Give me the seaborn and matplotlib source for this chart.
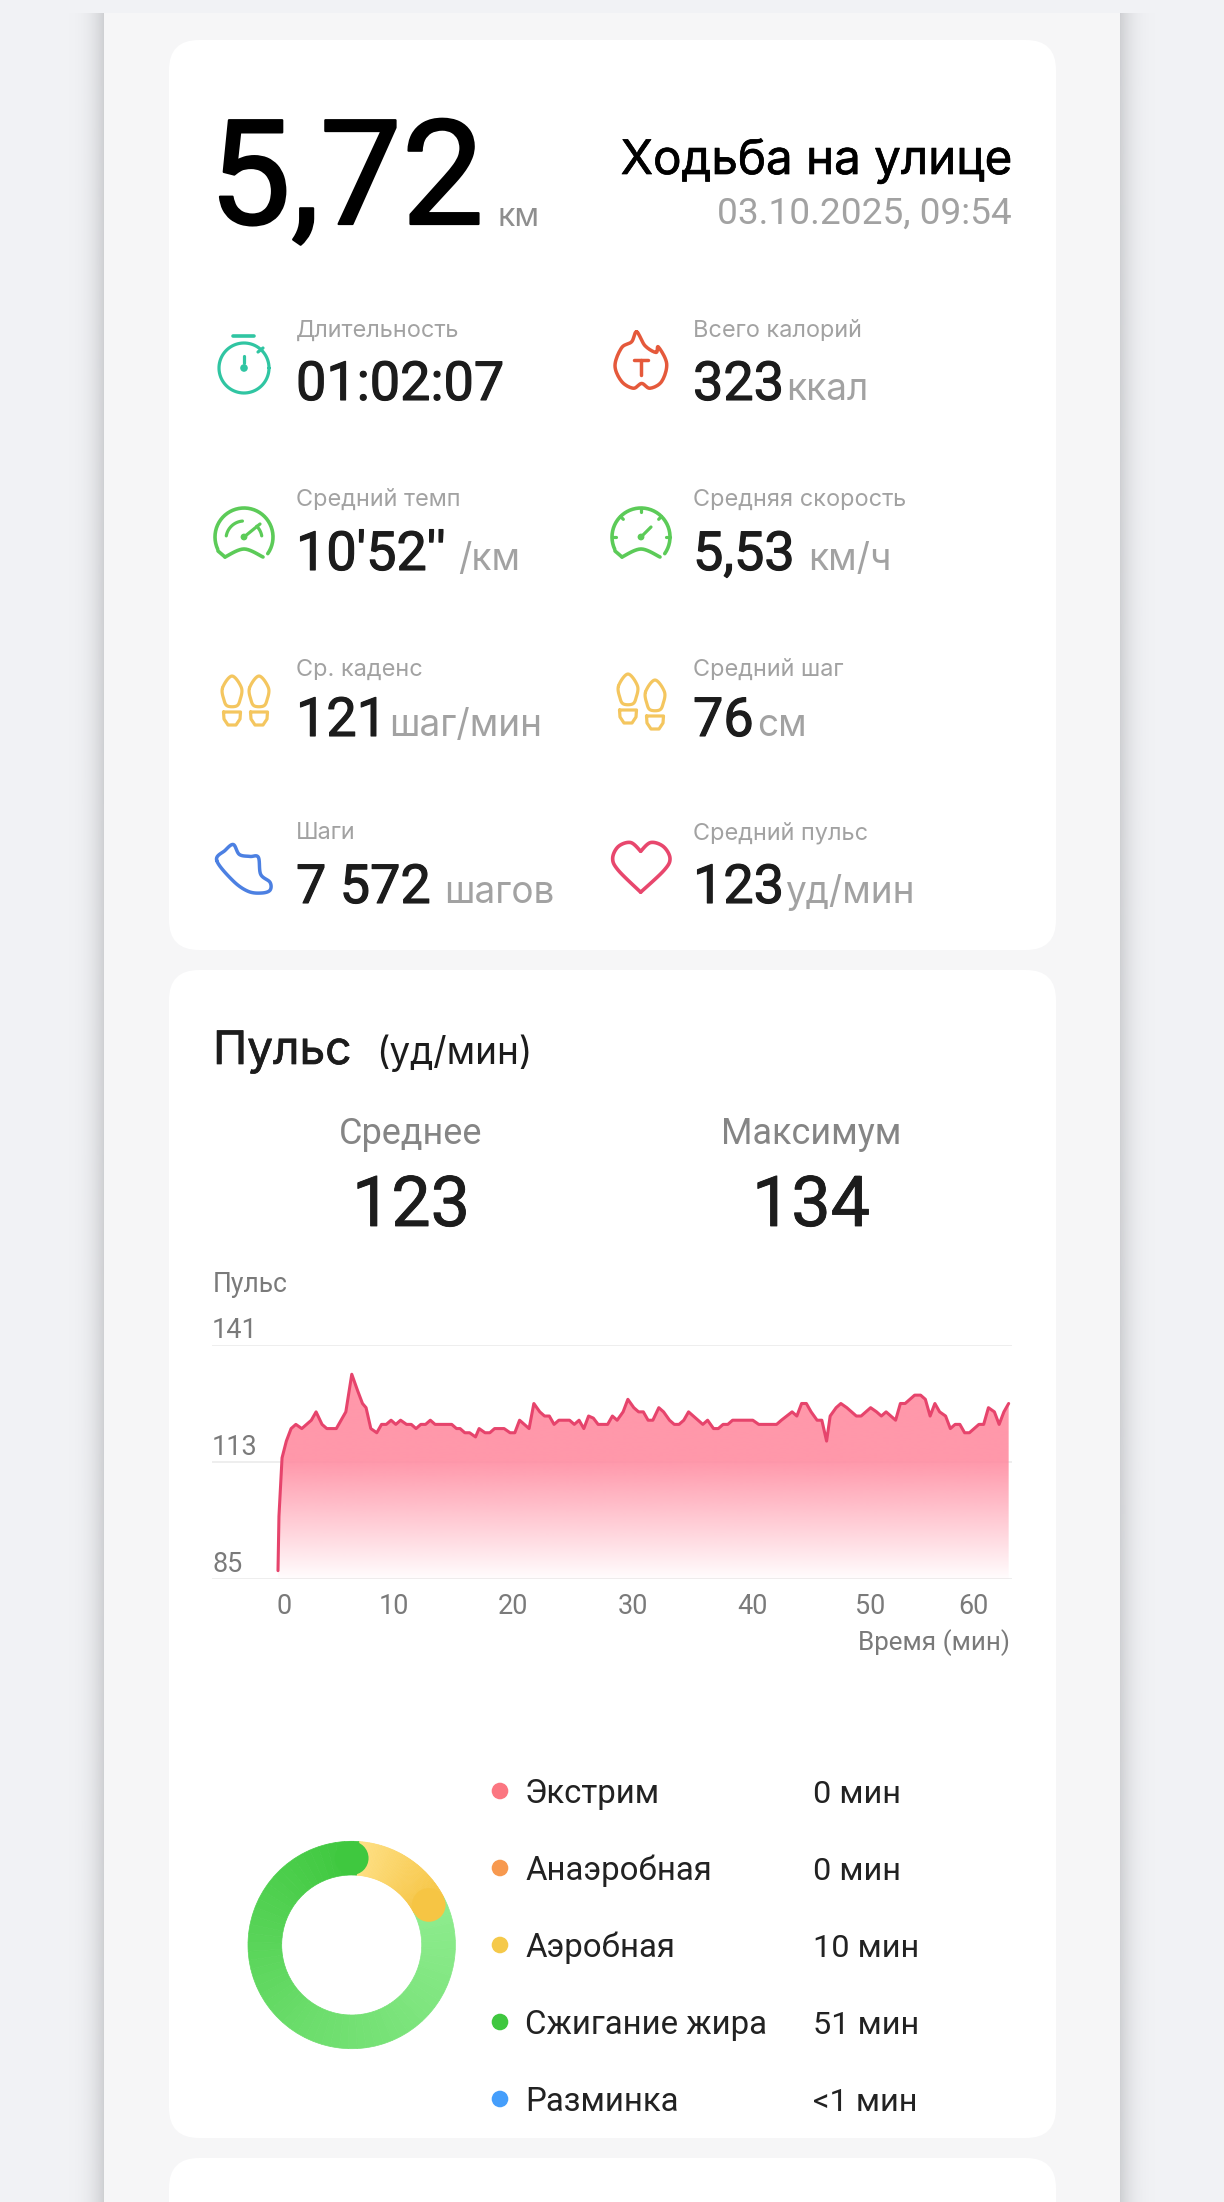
#!/usr/bin/env python3

# workout summary screen: stats card, heart rate line chart, zone donut

import numpy as np
import pandas as pd
import matplotlib
matplotlib.use('Agg')
import matplotlib.pyplot as plt
import matplotlib.patheffects as pe
import seaborn as sns
from matplotlib.patches import FancyBboxPatch, Circle, Rectangle
from matplotlib.transforms import ScaledTranslation

W, H = 1224, 2202

# heart rate
minutes = [0, 0.08, 0.34, 0.7, 1.1, 1.5, 2.0, 2.4, 2.8, 3.2, 3.7, 4.1, 4.9, 5.7, 6.2, 6.7, 7.1, 7.4,
           7.8, 8.3, 8.7, 9.1, 9.5, 9.9, 10.3, 10.8, 11.2, 11.6, 12.0, 12.4, 12.8, 13.2, 14.6, 15.0,
           15.3, 15.7, 16.1, 16.6, 16.9, 17.4, 17.8, 18.2, 19.0, 19.5, 19.9, 20.3, 20.7, 21.1, 21.5,
           22.0, 22.4, 22.8, 23.2, 23.6, 24.5, 24.9, 25.3, 25.7, 26.1, 26.5, 26.9, 27.7, 28.1, 28.5,
           29.0, 29.4, 29.9, 30.3, 30.7, 31.1, 31.5, 32.0, 32.4, 32.9, 33.3, 33.7, 34.1, 34.5, 34.9,
           35.3, 35.7, 36.1, 36.6, 37.0, 37.4, 37.8, 38.2, 39.9, 40.4, 41.9, 42.3, 43.2, 43.6, 44.0,
           44.4, 44.8, 45.3, 45.7, 46.1, 46.4, 46.9, 47.3, 47.8, 48.2, 48.6, 49.0, 49.8, 50.3, 50.7,
           51.1, 51.5, 51.9, 52.3, 52.7, 53.5, 54.0, 54.4, 54.8, 55.2, 55.6, 56.1, 56.5, 56.9, 57.3,
           57.7, 58.1, 58.9, 59.3, 59.7, 60.2, 60.6, 61.0, 61.4]
pulse = [87, 100, 114, 118, 121, 122, 121, 122, 123, 125, 122, 121, 121, 125, 134, 130, 127, 126,
         121, 120, 122, 122, 123, 122, 123, 122, 122, 121, 122, 122, 123, 122, 122, 121,
         121, 120, 120, 119, 121, 120, 120, 121, 121, 120, 120, 123, 122, 121, 127,
         125, 124, 124, 122, 123, 123, 122, 123, 121, 124, 123.5, 122, 122, 124, 123,
         125, 128, 126, 125, 125, 123, 123, 126, 125, 123, 122, 122, 123, 125, 124,
         123, 122, 123, 121, 121, 122, 122, 123, 123, 122, 122, 123, 125, 124, 127,
         127, 125, 123, 123, 118, 124, 126, 127, 126, 125, 124, 124, 126, 125, 124,
         125, 124, 123, 127, 127, 129, 129, 128, 124, 127, 125, 124, 121, 122, 122,
         120, 120, 122, 122, 126, 125, 122, 125, 127]

y_ticks = [85, 113, 141]
x_labels = ['0', '10', '20', '30', '40', '50', '60']
# where the app puts the labels, first and last are pushed inwards
x_label_pos = [0.5, 9.75, 19.75, 29.83, 39.83, 49.75, 58.4]

zone_names = ['Экстрим', 'Анаэробная', 'Аэробная', 'Сжигание жира', 'Разминка']
zone_labels = ['0 мин', '0 мин', '10 мин', '51 мин', '<1 мин']
zone_minutes = [0, 0, 10, 51, 0.5]
zone_colors = ['#FB7681', '#F7994F', '#F5C94A', '#3FC73F', '#459EFB']

stat_labels = ['Длительность', 'Всего калорий', 'Средний темп', 'Средняя скорость',
               'Ср. каденс', 'Средний шаг', 'Шаги', 'Средний пульс']
stat_values = ['01:02:07', '323', "10'52''", '5,53', '121', '76', '7 572', '123']
stat_units = ['', 'ккал', '/км', 'км/ч', 'шаг/мин', 'см', 'шагов', 'уд/мин']

sns.set_theme(style='white')
plt.rcParams['font.family'] = ['Roboto', 'DejaVu Sans']

DARK = '#1C1C1C'
GREY = '#A2A2A2'
AXIS_GREY = '#7A7A7A'


def px(size):
    """pixel height to points at dpi 100"""
    return size * 0.72


def to_xy(pts, x0, y0):
    """crop coordinates of the icons to page pixels"""
    return [(x0 + a / 3, y0 + b / 2.516) for a, b in pts]


def heavy(color, lw):
    """thicken a regular weight a little"""
    return [pe.withStroke(linewidth=lw, foreground=color)]


def smooth(pts, closed=True, n=10):
    """catmull-rom through the points, only used for the icons"""
    p = np.array(pts, dtype=float)
    if closed:
        p = np.vstack([p[-1], p, p[0], p[1]])
    else:
        p = np.vstack([p[0], p, p[-1]])
    out = []
    for i in range(1, len(p) - 2):
        for t in np.linspace(0, 1, n, endpoint=False):
            out.append(0.5 * (2 * p[i] + (p[i + 1] - p[i - 1]) * t
                              + (2 * p[i - 1] - 5 * p[i] + 4 * p[i + 1] - p[i + 2]) * t ** 2
                              + (3 * p[i] - p[i - 1] - 3 * p[i + 1] + p[i + 2]) * t ** 3))
    if closed:
        out.append(out[0])
    else:
        out.append(p[-1])
    return np.array(out)


def stroke(bg, pts, color, lw=2.3):
    pts = np.asarray(pts)
    bg.plot(pts[:, 0], pts[:, 1], color=color, lw=lw, solid_capstyle='round', solid_joinstyle='round', zorder=4)


def arc(cx, cy, r, a0, a1, n=40):
    t = np.radians(np.linspace(a0, a1, n))
    return np.column_stack([cx + r * np.cos(t), cy - r * np.sin(t)])


def card(bg, x0, y0, x1, y1, r=30):
    bg.add_patch(FancyBboxPatch((x0 + r, y0 + r), x1 - x0 - 2 * r, y1 - y0 - 2 * r,
                                boxstyle=f'round,pad={r},rounding_size={r}',
                                fc='white', ec='none', zorder=2))


def shoes(bg, x1, y1, x2, y2, color):
    for cx, top in [(x1, y1), (x2, y2)]:
        sole = smooth([(cx - 9.5, top + 12), (cx, top), (cx + 9.5, top + 12), (cx + 8, top + 24),
                       (cx + 4.5, top + 30), (cx - 4.5, top + 30), (cx - 8, top + 24)])
        stroke(bg, sole, color)
        heel = [(cx - 8.5, top + 36), (cx + 8.5, top + 36), (cx + 8, top + 43), (cx + 4, top + 49),
                (cx - 4, top + 49), (cx - 8, top + 43), (cx - 8.5, top + 36)]
        stroke(bg, heel, color)


def draw_icons(bg):
    # stopwatch
    c = '#30C5A2'
    stroke(bg, arc(244, 368, 25, 0, 360, 80), c)
    stroke(bg, [(233, 336), (254, 336)], c, 2.6)
    stroke(bg, [(258, 352), (263, 348)], c)
    stroke(bg, [(244, 356), (244, 363)], c)
    bg.add_patch(Circle((244, 368), 3.8, fc=c, ec='none', zorder=4))

    # pace gauge
    c = '#5CCB58'
    stroke(bg, arc(244, 537, 29, 205, -35), c, 2.6)
    stroke(bg, smooth([(263, 557), (244, 549), (225, 557)], closed=False), c, 2.6)
    stroke(bg, [(218, 551), (225, 557)], c, 2.6)
    stroke(bg, arc(244, 539, 18, 170, 95), c)
    stroke(bg, arc(244, 539, 18, 45, 10), c)
    stroke(bg, [(244, 537), (260, 524)], c)
    bg.add_patch(Circle((244, 537), 3.4, fc=c, ec='none', zorder=4))

    # speed gauge
    stroke(bg, arc(641, 537, 29, 205, -35), c, 2.6)
    stroke(bg, smooth([(660, 557), (641, 549), (622, 557)], closed=False), c, 2.6)
    stroke(bg, [(615, 551), (622, 557)], c, 2.6)
    for a in [180, 135, 90, 45, 0]:
        t = np.radians(a)
        stroke(bg, [(641 + 29 * np.cos(t), 537 - 29 * np.sin(t)), (641 + 25 * np.cos(t), 537 - 25 * np.sin(t))], c)
    stroke(bg, [(641, 537), (651, 527)], c)
    bg.add_patch(Circle((641, 537), 3.4, fc=c, ec='none', zorder=4))

    shoes(bg, 232, 676, 259, 676, '#F4C65F')
    shoes(bg, 628, 674, 655, 680, '#F4C65F')

    # sneaker
    sneaker = [(80, 1410), (105, 1385), (130, 1370), (148, 1395), (180, 1400), (205, 1402), (212, 1445),
               (240, 1465), (240, 1485), (215, 1492), (175, 1488), (130, 1462)]
    stroke(bg, smooth(to_xy(sneaker, 190, 300)), '#4C80E2', 2.5)

    # flame with T
    c = '#E5593B'
    flame = [(140, 80), (165, 115), (198, 132), (205, 118), (230, 160), (215, 205), (180, 222),
             (155, 210), (130, 222), (95, 205), (75, 165), (95, 120), (125, 105)]
    stroke(bg, smooth(to_xy(flame, 590, 300)), c, 2.5)
    stroke(bg, to_xy([(132, 150), (174, 150)], 590, 300), c, 2.5)
    stroke(bg, to_xy([(153, 150), (153, 188)], 590, 300), c, 2.5)

    # heart
    left = [(152, 1490), (85, 1435), (68, 1405), (85, 1375), (122, 1365), (152, 1387)]
    right = [(152, 1387), (182, 1365), (220, 1375), (240, 1405), (222, 1435), (152, 1490)]
    stroke(bg, smooth(to_xy(left, 590, 300), closed=False), '#E8476D', 2.6)
    stroke(bg, smooth(to_xy(right, 590, 300), closed=False), '#E8476D', 2.6)


def draw_stats(bg):
    bg.text(209, 224, '5,72', fontsize=px(146), color='black', va='baseline', zorder=5,
            path_effects=heavy('black', 1.6))
    bg.text(497, 226, 'км', fontsize=px(32), color='#8E8E8E', va='baseline', zorder=5, family='Inter')
    bg.text(1012, 174, 'Ходьба на улице', fontsize=px(47.5), color='black', ha='right', va='baseline', zorder=5,
            family='Inter', path_effects=heavy('black', 0.5))
    bg.text(1012, 224, '03.10.2025, 09:54', fontsize=px(37), color=GREY, ha='right', va='baseline', zorder=5)

    col_x = [296, 693]
    label_y = [337, 506, 676, 839]
    value_y = [400, 570, 736, 903]
    unit_x = [None, 786, 458, 808, 389, 757, 444, 785]
    for i, (lab, val, unit) in enumerate(zip(stat_labels, stat_values, stat_units)):
        row = i // 2
        x = col_x[i % 2]
        bg.text(x, label_y[row], lab, fontsize=px(23.5), color=GREY, va='baseline', zorder=5, family='Inter')
        bg.text(x, value_y[row], val, fontsize=px(54), color=DARK, va='baseline', zorder=5,
                path_effects=heavy(DARK, 0.8))
        if unit:
            bg.text(unit_x[i], value_y[row], unit, fontsize=px(37), color=GREY, va='baseline', zorder=5, family='Inter')


def draw_pulse_header(bg):
    bg.text(213, 1064, 'Пульс', fontsize=px(46), color=DARK, va='baseline', zorder=5, family='Inter',
            path_effects=heavy(DARK, 0.5))
    bg.text(376, 1064, '(уд/мин)', fontsize=px(37), color=DARK, va='baseline', zorder=5, family='Inter')
    for x, name, val in [(411, 'Среднее', '123'), (811, 'Максимум', '134')]:
        bg.text(x, 1144, name, fontsize=px(36), color='#858585', ha='center', va='baseline', zorder=5)
        bg.text(x, 1226, val, fontsize=px(70), color=DARK, ha='center', va='baseline', zorder=5,
                path_effects=heavy(DARK, 0.6))
    bg.text(213, 1292, 'Пульс', fontsize=px(26.5), color=AXIS_GREY, va='baseline', zorder=5)
    bg.text(1010, 1650, 'Время (мин)', fontsize=px(26), color=AXIS_GREY, ha='right', va='baseline', zorder=5)


def draw_chart(fig):
    # 212..1012 wide, 1345..1579 tall on the page
    ax = fig.add_axes([212 / W, 1 - 1579 / H, 800 / W, 234 / H], facecolor='none', zorder=6)
    df = pd.DataFrame({'minute': minutes, 'pulse': pulse})
    x0_px, per_min = 278, 11.9
    ax.set_xlim((212 - x0_px) / per_min, (1012 - x0_px) / per_min)
    ax.set_ylim(85, 141)

    poly = ax.fill_between(df['minute'], df['pulse'], 85, color='none', lw=0)
    # flat pink down to 113 then fading out
    levels = np.linspace(141, 85, 256)
    rgba = np.zeros((256, 1, 4))
    rgba[..., :3] = matplotlib.colors.to_rgb('#FF8FA3')
    rgba[:, 0, 3] = np.interp(levels, [85, 113, 141], [0.02, 0.92, 0.92])
    img = ax.imshow(rgba, extent=[minutes[0], minutes[-1], 85, 141], aspect='auto', zorder=2, interpolation='bilinear')
    img.set_clip_path(poly.get_paths()[0], ax.transData)
    ax.set_xlim((212 - x0_px) / per_min, (1012 - x0_px) / per_min)
    ax.set_ylim(85, 141)

    sns.lineplot(data=df, x='minute', y='pulse', ax=ax, color='#E6446C', lw=2.2,
                 estimator=None, sort=False, zorder=3)

    sns.despine(ax=ax, left=True, bottom=True, top=True, right=True)
    ax.set_xlabel('')
    ax.set_ylabel('')
    ax.set_yticks(y_ticks, [str(v) for v in y_ticks])
    ax.set_xticks(x_label_pos, x_labels)
    ax.grid(axis='y', color='#E9E9E9', lw=1.1, zorder=1)
    ax.grid(axis='x', visible=False)
    ax.set_axisbelow(True)
    ax.tick_params(axis='y', length=0, pad=0, labelsize=px(27), labelcolor=AXIS_GREY)
    ax.tick_params(axis='x', length=0, pad=10, labelsize=px(27), labelcolor=AXIS_GREY)
    # y labels sit on top of their gridlines, inside the plot
    up = ScaledTranslation(0, 7 / 100, fig.dpi_scale_trans)
    for lab in ax.get_yticklabels():
        lab.set_ha('left')
        lab.set_va('baseline')
        lab.set_transform(lab.get_transform() + up)
    return ax


def draw_donut(fig, bg):
    cx, cy, r = 351.7, 1945, 103.7
    ax = fig.add_axes([(cx - r) / W, 1 - (cy + r) / H, 2 * r / W, 2 * r / H], facecolor='none', zorder=6)
    n = 60
    total = sum(zone_minutes)
    aerobic, fat, warmup = zone_minutes[2], zone_minutes[3], zone_minutes[4]
    # seaborn blends for the colour run along the ring
    yellows = sns.blend_palette(['#FEE084', '#F6C544'], n)
    greens = sns.blend_palette(['#8EEC8E', '#6BDD6B', '#3FC83F'], n)
    sizes = [aerobic / n] * n + [fat / n] * n + [warmup]
    colors = list(yellows) + list(greens) + [greens[-1]]
    offset = 4
    width = 33.7 / r
    wedges, _ = ax.pie(sizes, colors=colors, startangle=90 - offset, counterclock=False, radius=1,
                       wedgeprops={'width': width, 'linewidth': 0.5})
    for w in wedges:
        w.set_edgecolor(w.get_facecolor())
    ax.set_xlim(-1, 1)
    ax.set_ylim(-1, 1)
    mid = 1 - width / 2
    t_end = np.radians(90 - offset - 360 * aerobic / total)
    ax.add_patch(Circle((mid * np.cos(t_end), mid * np.sin(t_end)), width / 2, fc=yellows[-1], ec='none', zorder=5))
    ax.add_patch(Circle((0, mid), width / 2, fc=greens[-1], ec='none', zorder=5))
    ax.axis('off')

    rows = [1793, 1870, 1947, 2024, 2101]
    for y, name, val, col in zip(rows, zone_names, zone_labels, zone_colors):
        bg.add_patch(Circle((500, y - 2), 8.3, fc=col, ec='none', zorder=5))
        bg.text(525, y + 10, name, fontsize=px(33), color='#222222', va='baseline', zorder=5)
        bg.text(813, y + 10, val, fontsize=px(32.5), color='#222222', va='baseline', zorder=5)


def main():
    fig = plt.figure(figsize=(W / 100, H / 100), dpi=100, facecolor='#F1F2F5')
    bg = fig.add_axes([0, 0, 1, 1], facecolor='none')
    bg.axis('off')

    # column shadow on both sides
    shade = np.linspace(0, 1, 64) ** 3
    for x0, x1, ramp in [(62, 104, shade), (1120, 1162, shade[::-1])]:
        g = np.zeros((1, 64, 4))
        g[..., :3] = matplotlib.colors.to_rgb('#C9CACD')
        g[..., 3] = ramp * 0.85
        bg.imshow(g, extent=[x0, x1, H, 13], aspect='auto', zorder=0, interpolation='bilinear')
    bg.add_patch(Rectangle((104, 13), 1016, H - 13, fc='#F6F6F7', ec='none', zorder=1))
    card(bg, 169, 40, 1056, 950)
    card(bg, 169, 970, 1056, 2138)
    card(bg, 169, 2158, 1056, 2300)
    bg.set_xlim(0, W)
    bg.set_ylim(H, 0)

    draw_stats(bg)
    draw_icons(bg)
    draw_pulse_header(bg)
    draw_chart(fig)
    draw_donut(fig, bg)

    bg.set_xlim(0, W)
    bg.set_ylim(H, 0)
    fig.savefig('out.png', dpi=100, facecolor=fig.get_facecolor())


if __name__ == "__main__":
    main()
